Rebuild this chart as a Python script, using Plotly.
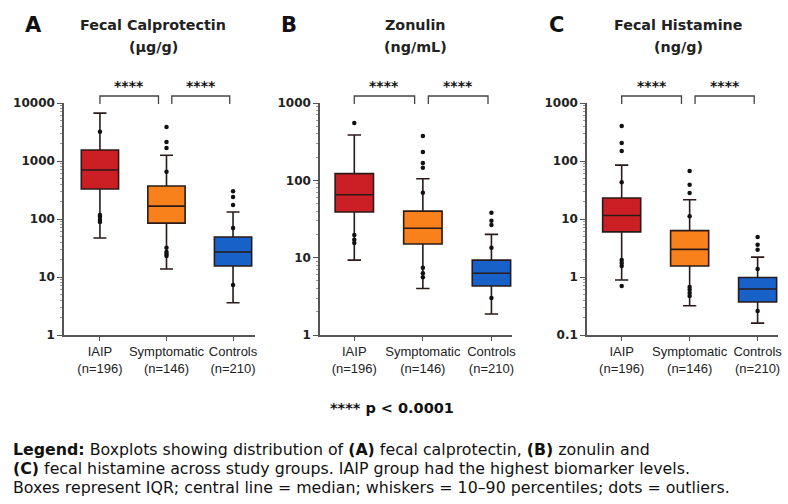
import plotly.graph_objects as go

groups = ["IAIP", "Symptomatic", "Controls"]
group_n = [196, 146, 210]
tick_labels = [f"{g}<br>(n={n})" for g, n in zip(groups, group_n)]
colors = ["#cc1f25", "#f8811c", "#1761c9"]

# Panel A: Fecal calprotectin (µg/g)
calpro_q1 = [330, 85, 15.5]
calpro_median = [700, 167, 27]
calpro_q3 = [1550, 370, 49]
calpro_lower = [47, 13.7, 3.6]
calpro_upper = [6700, 1260, 132]
calpro_outliers = [[3200, 117, 108, 96, 89],
                   [3850, 2130, 1670, 650, 32, 27, 25, 23],
                   [300, 240, 175, 70, 7.3]]

# Panel B: Zonulin (ng/mL)
zonulin_q1 = [39, 15, 4.3]
zonulin_median = [65, 24, 6.3]
zonulin_q3 = [122, 40, 9.3]
zonulin_lower = [9.3, 4.0, 1.87]
zonulin_upper = [385, 105, 20]
zonulin_outliers = [[550, 19.6, 17, 15.5],
                    [375, 233, 168, 145, 69, 7.4, 6.3, 5.6],
                    [38, 30, 26.5, 13.4, 3.0]]

# Panel C: Fecal histamine (ng/g)
histamine_q1 = [6.0, 1.55, 0.37]
histamine_median = [11.5, 3.0, 0.62]
histamine_q3 = [23, 6.3, 0.98]
histamine_lower = [0.89, 0.32, 0.16]
histamine_upper = [85, 21.5, 2.2]
histamine_outliers = [[400, 204, 148, 43, 1.96, 1.74, 1.55, 0.70],
                      [67, 39, 28, 11.2, 0.67, 0.60, 0.53, 0.47],
                      [4.9, 3.6, 2.95, 1.37, 0.26]]

panels = [
    dict(letter="A", title="Fecal Calprotectin", unit="(µg/g)", tcx=153,
         q1=calpro_q1, med=calpro_median, q3=calpro_q3, lo=calpro_lower, hi=calpro_upper,
         out=calpro_outliers, decades=[0, 4], xdom=[64, 255], xrange=[-0.54, 2.33]),
    dict(letter="B", title="Zonulin", unit="(ng/mL)", tcx=415,
         q1=zonulin_q1, med=zonulin_median, q3=zonulin_q3, lo=zonulin_lower, hi=zonulin_upper,
         out=zonulin_outliers, decades=[0, 3], xdom=[320, 512], xrange=[-0.5, 2.3]),
    dict(letter="C", title="Fecal Histamine", unit="(ng/g)", tcx=678,
         q1=histamine_q1, med=histamine_median, q3=histamine_q3, lo=histamine_lower, hi=histamine_upper,
         out=histamine_outliers, decades=[-1, 3], xdom=[587, 778], xrange=[-0.51, 2.3]),
]

W, H = 788, 504
SANS = "DejaVu Sans, Verdana, sans-serif"
ARIAL = "Liberation Sans, Arial, sans-serif"
ydom = [(H - 335) / H, (H - 103) / H]


def fmt(v):
    return f"{v:g}"


fig = go.Figure()
layout = dict(template="none", width=W, height=H, margin=dict(l=0, r=0, t=0, b=0, pad=0),
              paper_bgcolor="white", plot_bgcolor="white", showlegend=False,
              boxmode="overlay", font=dict(family=SANS, color="#222"))
annotations = []
shapes = []

for k, p in enumerate(panels):
    sfx = "" if k == 0 else str(k + 1)
    xa, ya = "x" + sfx, "y" + sfx
    for i in range(3):
        fig.add_trace(go.Box(
            x=[i], q1=[p["q1"][i]], median=[p["med"][i]], q3=[p["q3"][i]],
            lowerfence=[p["lo"][i]], upperfence=[p["hi"][i]],
            fillcolor=colors[i], line=dict(color="#2a1a1a", width=1.6),
            width=0.56, whiskerwidth=0.35, boxpoints=False,
            xaxis=xa, yaxis=ya, hoverinfo="skip"))
        fig.add_trace(go.Scatter(
            x=[i] * len(p["out"][i]), y=p["out"][i], mode="markers",
            marker=dict(color="#111", size=4.5), xaxis=xa, yaxis=ya, hoverinfo="skip"))
    d0, d1 = p["decades"]
    major = [10.0 ** e for e in range(d0, d1 + 1)]
    minor = [m * 10.0 ** e for e in range(d0, d1) for m in range(2, 10)]
    layout["xaxis" + sfx] = dict(
        domain=[p["xdom"][0] / W, p["xdom"][1] / W], range=p["xrange"], anchor=ya,
        tickmode="array", tickvals=[0, 1, 2], ticktext=tick_labels, automargin=False,
        showline=True, linecolor="#555", linewidth=1.5, ticks="outside", ticklen=4,
        tickcolor="#555", showgrid=False, zeroline=False,
        tickfont=dict(family=ARIAL, size=13, color="#222"))
    layout["yaxis" + sfx] = dict(
        domain=ydom, type="log", range=[d0, d1], anchor=xa, automargin=False,
        tickmode="array", tickvals=major, ticktext=[fmt(v) for v in major],
        showline=True, linecolor="#555", linewidth=1.5,
        ticks="outside", ticklen=5, tickcolor="#555", showgrid=False, zeroline=False,
        minor=dict(tickmode="array", tickvals=minor, ticks="outside", ticklen=2.5,
                   tickcolor="#999", showgrid=False),
        tickfont=dict(family=SANS, size=12, color="#222", weight="bold"))
    # titles
    annotations.append(dict(text=f"<b>{p['letter']}</b>", x=(p["xdom"][0] - 31) / W, y=1 - 25 / H,
                            xref="paper", yref="paper", showarrow=False,
                            font=dict(size=21, color="#111"), xanchor="center", yanchor="middle"))
    annotations.append(dict(text=f"<b>{p['title']}</b>", x=p["tcx"] / W, y=1 - 25 / H,
                            xref="paper", yref="paper", showarrow=False,
                            font=dict(size=14.3, color="#222"), xanchor="center", yanchor="middle"))
    annotations.append(dict(text=f"<b>{p['unit']}</b>", x=p["tcx"] / W, y=1 - 47 / H,
                            xref="paper", yref="paper", showarrow=False,
                            font=dict(size=14.3, color="#222"), xanchor="center", yanchor="middle"))
    # significance brackets
    for (a, b) in [(0, 0.88), (1.08, 1.95)]:
        yt, yb = (H - 96) / H, (H - 104) / H
        shapes.append(dict(type="path", xref=xa, yref="paper",
                           path=f"M {a},{yb} L {a},{yt} L {b},{yt} L {b},{yb}",
                           line=dict(color="#444", width=1.3)))
        annotations.append(dict(text="<b>****</b>", x=(a + b) / 2, y=1 - 86 / H, xref=xa, yref="paper",
                                showarrow=False, font=dict(size=14, color="#111"),
                                xanchor="center", yanchor="middle"))

annotations.append(dict(text="<b>**** p < 0.0001</b>", x=392 / W, y=1 - 408 / H, xref="paper", yref="paper",
                        showarrow=False, font=dict(size=14.5, color="#111"), xanchor="center", yanchor="middle"))
legend_lines = [
    "<b>Legend:</b> Boxplots showing distribution of <b>(A)</b> fecal calprotectin, <b>(B)</b> zonulin and",
    "<b>(C)</b> fecal histamine across study groups. IAIP group had the highest biomarker levels.",
    "Boxes represent IQR; central line = median; whiskers = 10–90 percentiles; dots = outliers.",
]
for j, line in enumerate(legend_lines):
    annotations.append(dict(text=line, x=11 / W, y=1 - (449 + 19 * j) / H, xref="paper", yref="paper",
                            showarrow=False, font=dict(size=15.8, color="#111"),
                            xanchor="left", yanchor="middle"))

layout["annotations"] = annotations
layout["shapes"] = shapes
fig.update_layout(**layout)
fig.write_html("out.html", config={"displayModeBar": False},
               post_script="document.body.style.margin='0';")
